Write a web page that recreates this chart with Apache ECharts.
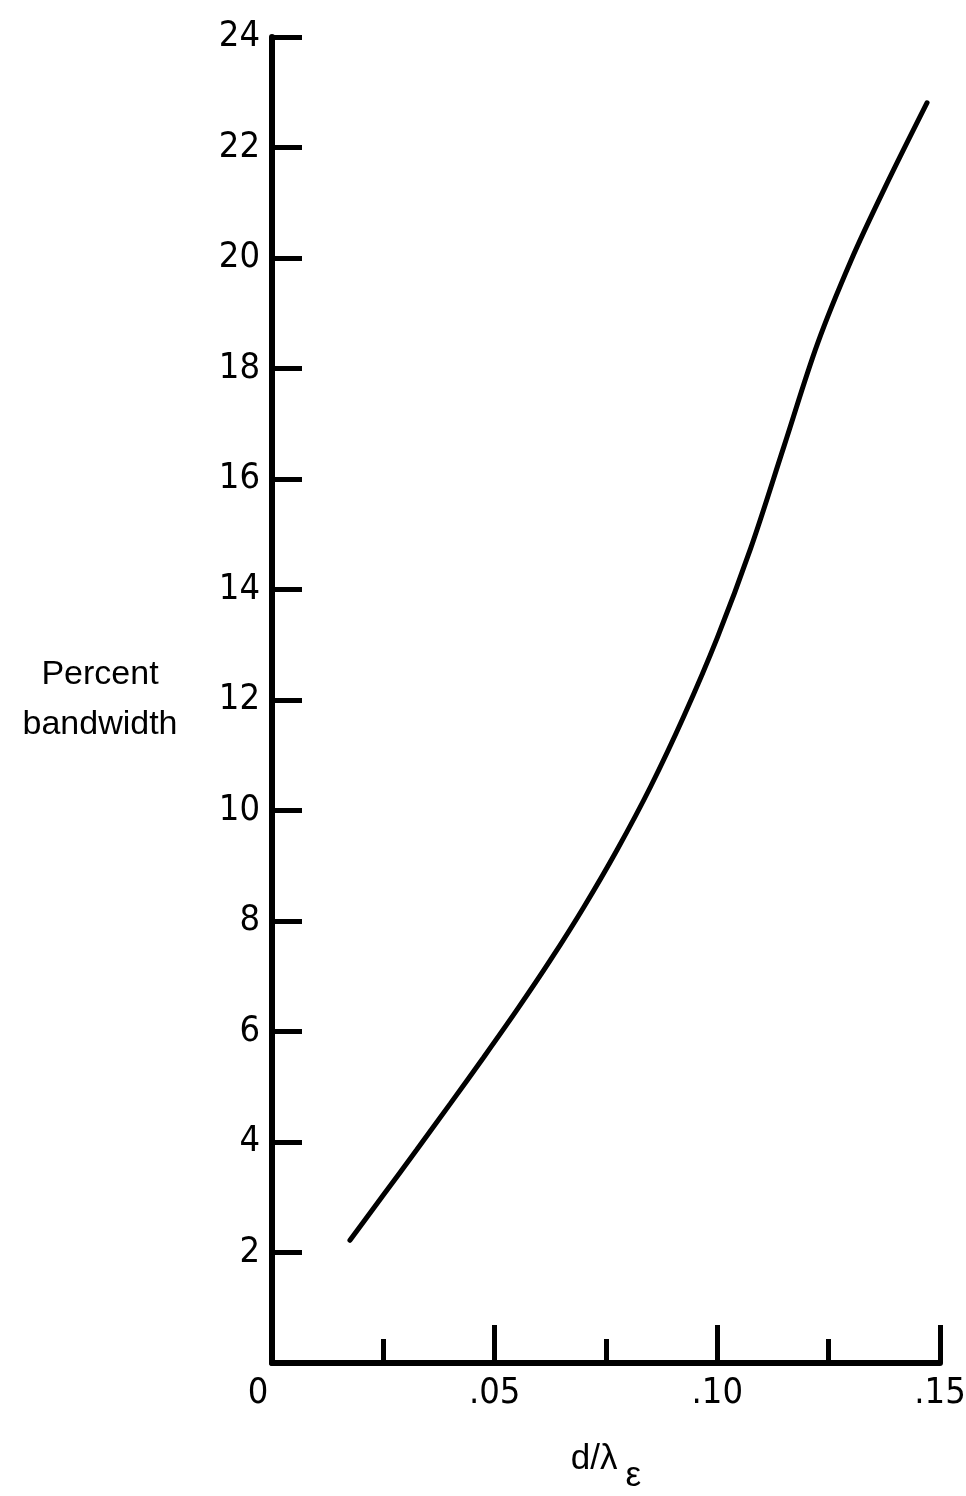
<!DOCTYPE html>
<html>
<head>
<meta charset="utf-8">
<script src="https://cdn.jsdelivr.net/npm/echarts@6/dist/echarts.min.js"></script>
<style>
  html, body { margin: 0; padding: 0; background: #fff; }
  #chart { width: 966px; height: 1496px; }
</style>
</head>
<body>
<div id="chart"></div>
<script>
// d/lambda_e values
var dRatio = [0.0175, 0.025, 0.0325, 0.040, 0.0475, 0.055, 0.0625, 0.070, 0.0775, 0.085, 0.0925, 0.100, 0.1075, 0.115, 0.1225, 0.130, 0.1375, 0.1471];
// percent bandwidth at those points
var bandwidth = [2.22, 3.04, 3.86, 4.69, 5.53, 6.39, 7.29, 8.25, 9.29, 10.43, 11.71, 13.13, 14.75, 16.60, 18.45, 19.95, 21.25, 22.81];
// tick labels
var xTickLabels = { '0': '{z|0}', '0.05': '.05', '0.1': '.10', '0.15': '.15' };

var chart = echarts.init(document.getElementById('chart'));
var numFont = '"Liberation Sans Narrow", "DejaVu Sans Condensed", "Liberation Sans", sans-serif';

chart.setOption({
  backgroundColor: '#fff',
  animation: false,
  grid: { left: 272, right: 26, top: 37, bottom: 133, outerBoundsMode: 'none', containLabel: false },
  xAxis: {
    type: 'value',
    min: 0,
    max: 0.15,
    interval: 0.05,
    name: '{a|d/λ}{s|ε}',
    nameLocation: 'middle',
    nameGap: 62,
    nameTextStyle: {
      rich: {
        a: { fontFamily: 'Liberation Sans', fontSize: 35, color: '#000' },
        s: { fontFamily: 'Liberation Sans', fontSize: 35, color: '#000', padding: [34, 0, 0, 8] }
      }
    },
    axisLine: { lineStyle: { color: '#000', width: 6 } },
    axisTick: { inside: true, length: 38, lineStyle: { color: '#000', width: 5 } },
    minorTick: { show: true, splitNumber: 2, length: 24, lineStyle: { color: '#000', width: 5 } },
    splitLine: { show: false },
    axisLabel: {
      margin: 13,
      fontFamily: numFont,
      fontSize: 36,
      color: '#000',
      rich: {
        z: { fontFamily: numFont, fontSize: 36, color: '#000', padding: [0, 28, 0, 0] }
      },
      formatter: function (v) {
        var k = String(Math.round(v * 100) / 100);
        return xTickLabels[k] !== undefined ? xTickLabels[k] : '';
      }
    }
  },
  yAxis: {
    type: 'value',
    min: 0,
    max: 24,
    interval: 2,
    name: 'Percent\nbandwidth',
    nameLocation: 'middle',
    nameRotate: 0,
    nameGap: 172,
    nameTextStyle: {
      fontFamily: 'Liberation Sans',
      fontSize: 34,
      lineHeight: 50,
      color: '#000',
      align: 'center',
      padding: [44, 0, 0, 0]
    },
    axisLine: { show: true, lineStyle: { color: '#000', width: 6 } },
    axisTick: { show: true, inside: true, length: 30, lineStyle: { color: '#000', width: 5 } },
    splitLine: { show: false },
    axisLabel: {
      margin: 12,
      fontFamily: numFont,
      fontSize: 36,
      color: '#000',
      formatter: function (v) { return v === 0 ? '' : String(v); }
    }
  },
  series: [
    {
      type: 'line',
      data: dRatio.map(function (d, i) { return [d, bandwidth[i]]; }),
      smooth: 0.35,
      showSymbol: false,
      lineStyle: { color: '#000', width: 5, cap: 'round' }
    }
  ]
});
</script>
</body>
</html>
